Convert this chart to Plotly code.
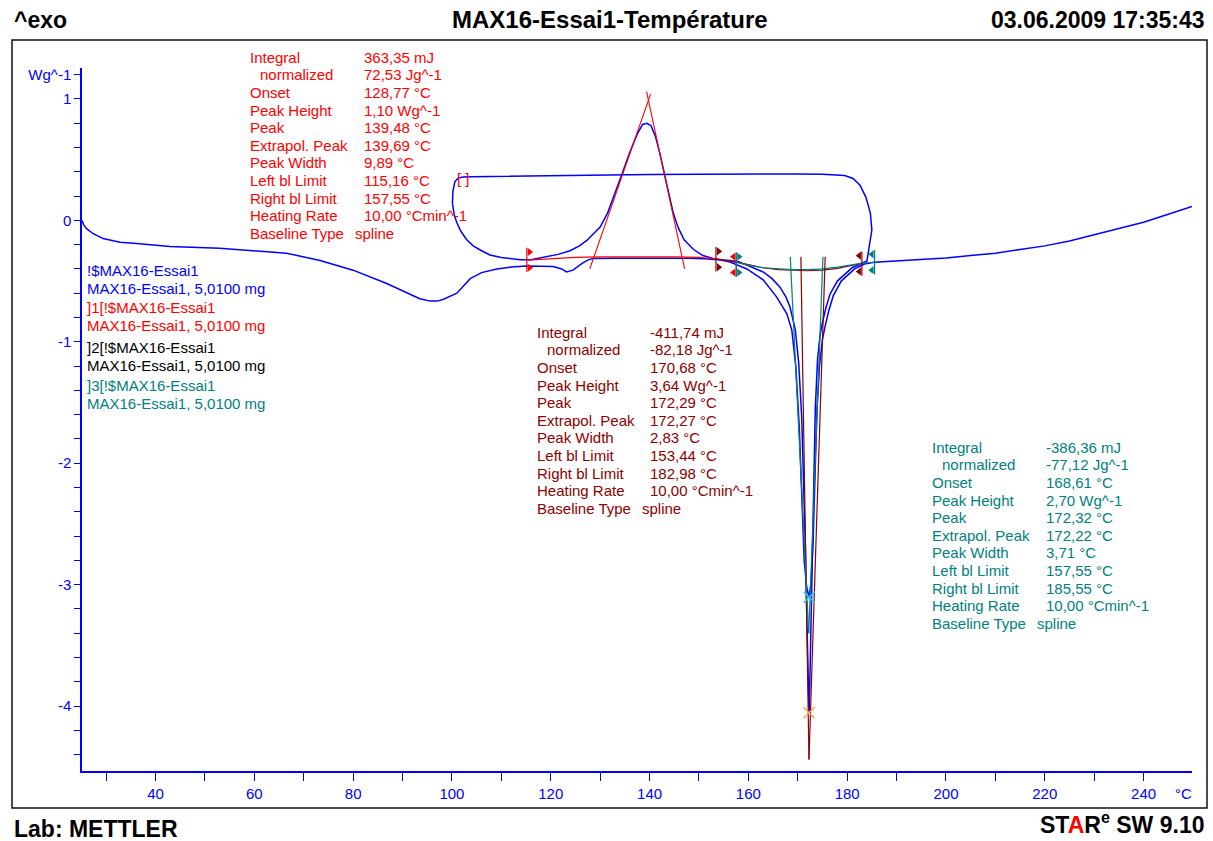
import numpy as np
import plotly.graph_objects as go

BLUE = "#0000ff"
RED = "#ff0000"
BROWN = "#8b0000"
TEAL = "#008080"
FONT = "Liberation Sans, Arial, sans-serif"

# ---------------- DSC signal, MAX16-Essai1, 5,0100 mg (Wg^-1 vs °C) ----------------
# 1st heating 25 -> 185 °C
heat1_T = [25.15, 25.5, 26.1, 27.4, 29.4, 32.8, 36.2, 42.9, 53.0, 59.7, 66.5, 73.3, 80.0,
           86.8, 93.5, 95.6, 97.0, 98.3, 101.0, 103.7, 106.0, 109.1, 112.0, 115.1, 118.0,
           120.5, 122.2, 123.2, 124.5, 125.5, 126.5, 127.6, 128.6, 133.0, 138.0, 143.0,
           148.0, 151.0, 153.4, 156.3, 158.0, 159.7, 161.5, 163.0, 164.8, 166.4, 167.6,
           168.4, 169.5, 170.2, 170.8, 171.2, 171.55, 171.85, 172.1, 172.45, 172.65, 172.9,
           173.2, 173.55, 174.0, 174.5, 175.0, 175.7, 176.5, 178.0, 181.0, 183.3, 184.0]
heat1_W = [0.00, -0.04, -0.07, -0.11, -0.15, -0.18, -0.19, -0.215, -0.23, -0.247, -0.27,
           -0.33, -0.41, -0.52, -0.645, -0.665, -0.665, -0.65, -0.60, -0.48, -0.43, -0.40,
           -0.385, -0.376, -0.375, -0.38, -0.40, -0.425, -0.41, -0.38, -0.35, -0.325, -0.315,
           -0.312, -0.31, -0.31, -0.312, -0.316, -0.32, -0.33, -0.34, -0.37, -0.395, -0.425,
           -0.48, -0.55, -0.63, -0.71, -0.90, -1.18, -1.62, -2.1, -2.7, -3.3, -3.75, -3.8,
           -3.35, -2.75, -2.1, -1.55, -1.15, -0.95, -0.84, -0.72, -0.61, -0.50, -0.39, -0.35,
           -0.335]

# cooling 185 -> 100 °C
cool_T = [184.0, 184.4, 185.0, 184.7, 183.8, 182.6, 181.2, 179.5, 175.0, 170.0, 160.0,
          150.0, 140.0, 130.0, 120.0, 110.0, 104.0, 102.3, 101.3, 100.6, 100.2, 100.1]
cool_W = [-0.335, -0.22, -0.08, 0.06, 0.19, 0.29, 0.345, 0.37, 0.38, 0.382, 0.383, 0.38,
          0.377, 0.374, 0.371, 0.366, 0.36, 0.358, 0.35, 0.32, 0.24, 0.14]

# 2nd heating 100 -> 250 °C
heat2_T = [100.1, 100.5, 101.0, 101.8, 103.0, 104.3, 106.0, 107.7, 110.0, 113.8, 116.0,
           119.2, 121.5, 123.9, 125.8, 127.3, 128.7, 130.0, 131.5, 133.0, 134.5, 136.0,
           137.5, 138.6, 140.3, 141.2, 142.1, 143.0, 143.9, 144.8, 145.8, 147.0, 148.9,
           150.8, 153.0, 156.3, 159.7, 163.0, 165.7, 167.8, 168.8, 169.6, 170.3, 170.8,
           171.3, 171.8, 172.7, 173.1, 173.5, 173.9, 174.4, 175.0, 175.6, 176.3, 177.2,
           178.8, 181.5, 183.5, 185.5, 190.0, 195.0, 200.0, 205.0, 210.0, 215.0, 220.0,
           225.0, 230.0, 235.0, 240.0, 245.0, 249.8]
heat2_W = [0.14, 0.04, -0.02, -0.09, -0.16, -0.21, -0.25, -0.285, -0.305, -0.325, -0.325,
           -0.30, -0.28, -0.25, -0.21, -0.165, -0.11, -0.055, 0.06, 0.22, 0.39, 0.56, 0.71,
           0.79, 0.78, 0.69, 0.55, 0.38, 0.21, 0.06, -0.06, -0.16, -0.24, -0.29, -0.315,
           -0.343, -0.40, -0.49, -0.63, -0.77, -0.905, -1.2, -1.7, -2.3, -2.8, -3.02, -2.98,
           -2.65, -2.1, -1.55, -1.2, -0.98, -0.86, -0.74, -0.62, -0.50, -0.40, -0.36, -0.345,
           -0.335, -0.325, -0.31, -0.29, -0.27, -0.24, -0.21, -0.17, -0.12, -0.07, -0.015,
           0.05, 0.115]

# ---------------- evaluations ----------------
# red: exothermic peak of the 2nd heating
exo_bl_T = [115.16, 120.0, 125.0, 130.0, 135.0, 139.48, 145.0, 150.0, 154.0, 157.55]
exo_bl_W = [-0.328, -0.315, -0.305, -0.30, -0.297, -0.30, -0.30, -0.305, -0.318, -0.345]
exo_peak_T, exo_height = 139.48, 1.10
exo_tan_left_T, exo_tan_left_W = [127.9, 140.2], [-0.40, 1.04]
exo_tan_right_T, exo_tan_right_W = [139.4, 147.1], [1.06, -0.40]
exo_limits = [115.16, 157.55]

# brown: melting peak of the 1st heating
m1_bl_T = [153.44, 157.0, 160.0, 163.0, 166.0, 169.0, 172.0, 175.0, 178.0, 181.0, 182.98]
m1_bl_W = [-0.318, -0.34, -0.365, -0.39, -0.405, -0.413, -0.415, -0.41, -0.395, -0.37, -0.352]
m1_peak_T, m1_height = 172.29, 3.64
m1_onset, m1_extrapol = 170.68, 172.27
m1_tan_right_T = 175.55
m1_tan_bottom = -4.44
m1_limits = [153.44, 182.98]

# teal: melting peak of the 2nd heating
m2_bl_T = [157.55, 160.0, 163.0, 166.0, 169.0, 172.0, 175.0, 178.0, 181.0, 183.5, 185.55]
m2_bl_W = [-0.345, -0.37, -0.39, -0.40, -0.405, -0.405, -0.40, -0.385, -0.365, -0.35, -0.345]
m2_peak_T, m2_height = 172.32, 2.70
m2_onset, m2_extrapol = 168.61, 172.22
m2_tan_right_T = 175.1
m2_tan_bottom = -3.40
m2_limits = [157.55, 185.55]

row_labels = ["Integral", "normalized", "Onset", "Peak Height", "Peak", "Extrapol. Peak",
              "Peak Width", "Left bl Limit", "Right bl Limit", "Heating Rate", "Baseline Type"]
exo_values = ["363,35 mJ", "72,53 Jg^-1", "128,77 °C", "1,10 Wg^-1", "139,48 °C", "139,69 °C",
              "9,89 °C", "115,16 °C", "157,55 °C", "10,00 °Cmin^-1", "spline"]
m1_values = ["-411,74 mJ", "-82,18 Jg^-1", "170,68 °C", "3,64 Wg^-1", "172,29 °C", "172,27 °C",
             "2,83 °C", "153,44 °C", "182,98 °C", "10,00 °Cmin^-1", "spline"]
m2_values = ["-386,36 mJ", "-77,12 Jg^-1", "168,61 °C", "2,70 Wg^-1", "172,32 °C", "172,22 °C",
             "3,71 °C", "157,55 °C", "185,55 °C", "10,00 °Cmin^-1", "spline"]

legend_lines = ["!$MAX16-Essai1", "MAX16-Essai1, 5,0100 mg",
                "]1[!$MAX16-Essai1", "MAX16-Essai1, 5,0100 mg",
                "]2[!$MAX16-Essai1", "MAX16-Essai1, 5,0100 mg",
                "]3[!$MAX16-Essai1", "MAX16-Essai1, 5,0100 mg"]
legend_colors = [BLUE, BLUE, RED, RED, "#000000", "#000000", TEAL, TEAL]

x_ticks = [40, 60, 80, 100, 120, 140, 160, 180, 200, 220, 240]
y_ticks = [-4, -3, -2, -1, 0, 1, 1.2]
y_ticktext = ["-4", "-3", "-2", "-1", "0", "1", "Wg^-1"]


# ---------------- derived peak points ----------------
def insert_point(T, W, t, w):
    T, W = list(T), list(W)
    i = int(np.searchsorted(T, t))
    T.insert(i, t)
    W.insert(i, w)
    return T, W


exo_peak_W = float(np.interp(exo_peak_T, exo_bl_T, exo_bl_W)) + exo_height
m1_peak_W = float(np.interp(m1_peak_T, m1_bl_T, m1_bl_W)) - m1_height
m2_peak_W = float(np.interp(m2_peak_T, m2_bl_T, m2_bl_W)) - m2_height

h1T, h1W = insert_point(heat1_T, heat1_W, m1_peak_T, m1_peak_W)
h2T, h2W = insert_point(heat2_T, heat2_W, exo_peak_T, exo_peak_W)
h2T, h2W = insert_point(h2T, h2W, m2_peak_T, m2_peak_W)

fig = go.Figure()


def line(x, y, color, width=1.5):
    fig.add_trace(go.Scatter(x=x, y=y, mode="lines", line=dict(color=color, width=width),
                             showlegend=False, hoverinfo="skip"))


# measured curves
line(h1T, h1W, BLUE)
line(cool_T, cool_W, BLUE)
line(h2T, h2W, BLUE)

# evaluation baselines
line(exo_bl_T, exo_bl_W, RED, 1.2)
line(m1_bl_T, m1_bl_W, BROWN, 1.2)
line(m2_bl_T, m2_bl_W, TEAL, 1.2)

# tangents
line(exo_tan_left_T, exo_tan_left_W, RED, 1.1)
line(exo_tan_right_T, exo_tan_right_W, RED, 1.1)


def tangent_pair(onset, onset_bl, extrapol, bottom, right_T, color):
    slope = (bottom - onset_bl) / (extrapol - onset)
    top = -0.30
    t_left = onset + (top - onset_bl) / slope
    line([t_left, extrapol], [top, bottom], color, 1.2)
    line([right_T, extrapol], [top, bottom], color, 1.2)


tangent_pair(m1_onset, float(np.interp(m1_onset, m1_bl_T, m1_bl_W)), m1_extrapol,
             m1_tan_bottom, m1_tan_right_T, BROWN)
tangent_pair(m2_onset, float(np.interp(m2_onset, m2_bl_T, m2_bl_W)), m2_extrapol,
             m2_tan_bottom, m2_tan_right_T, TEAL)


# baseline limit flags
def flags(limits, curveT, curveW, color):
    for k, t in enumerate(limits):
        y0 = float(np.interp(t, curveT, curveW))
        sym = "triangle-right" if k == 0 else "triangle-left"
        dx = 0.55 if k == 0 else -0.55
        line([t, t], [y0 + 0.1, y0 - 0.1], color, 1.2)
        fig.add_trace(go.Scatter(x=[t + dx, t + dx], y=[y0 + 0.065, y0 - 0.065], mode="markers",
                                 marker=dict(symbol=sym, size=7, color=color, line=dict(width=0)),
                                 showlegend=False, hoverinfo="skip"))


flags(exo_limits, h2T, h2W, RED)
flags(m1_limits, h1T, h1W, BROWN)
flags(m2_limits, h2T, h2W, TEAL)

# peak markers
for pt, pw, col in [(m1_peak_T, m1_peak_W, BROWN), (m2_peak_T, m2_peak_W, TEAL)]:
    fig.add_trace(go.Scatter(x=[pt], y=[pw], mode="markers",
                             marker=dict(symbol="x-thin-open", size=11,
                                         line=dict(color=col, width=1.5)),
                             showlegend=False, hoverinfo="skip"))

# ---------------- layout ----------------
L, R, TOP, BOT = 82, 1192, 68, 771


def fx(p):
    return (p - L) / (R - L)


def fy(p):
    return (BOT - p) / (BOT - TOP)


ann = []


def text(s, x, y, color, size=15, xanchor="left", bold=False, yanchor="middle"):
    ann.append(dict(text=f"<b>{s}</b>" if bold else s, x=fx(x), y=fy(y), xref="paper",
                    yref="paper", xanchor=xanchor, yanchor=yanchor, showarrow=False,
                    font=dict(family=FONT, size=size, color=color)))


def block(values, x_lab, x_val, x_spline, y0, color):
    for i, (lab, val) in enumerate(zip(row_labels, values)):
        y = y0 + i * 17.6
        text(lab, x_lab + (10 if lab == "normalized" else 0), y, color)
        text(val, x_spline if i == len(row_labels) - 1 else x_val, y, color)


block(exo_values, 248, 362, 353, 57.3, RED)
block(m1_values, 535, 648, 640, 332.3, BROWN)
block(m2_values, 930, 1044, 1035, 447.3, TEAL)

legend_y = [270, 288.5, 307.3, 325.5, 347, 365.7, 385, 403.3]
for s, c, y in zip(legend_lines, legend_colors, legend_y):
    text(s, 85, y, c)

text("[ ]", 455, 178, RED, size=15)
text("°C", 1183, 793, BLUE, size=15, xanchor="center")

# header / footer
text("^exo", 12, 20, "#000000", size=23, bold=True)
text("MAX16-Essai1-Température", 610, 20, "#000000", size=24, xanchor="center", bold=True)
text("03.06.2009 17:35:43", 1207, 20, "#000000", size=23, xanchor="right", bold=True)
text("Lab: METTLER", 12, 829, "#000000", size=23, bold=True)
text("ST<span style='color:#ff0000'>A</span>R<sup>e</sup> SW 9.10", 1207, 840, "#000000",
     size=23, xanchor="right", bold=True, yanchor="bottom")

fig.update_layout(
    width=1213, height=841,
    margin=dict(l=L, r=1213 - R, t=TOP, b=841 - BOT, pad=0),
    paper_bgcolor="white", plot_bgcolor="white",
    annotations=ann,
    shapes=[dict(type="rect", xref="paper", yref="paper", x0=fx(12), x1=fx(1207),
                 y0=fy(808), y1=fy(40), line=dict(color="#111111", width=1.5))],
    xaxis=dict(range=[25.12, 249.8], tickmode="array", tickvals=x_ticks,
               ticks="outside", ticklen=8, tickcolor=BLUE, tickwidth=1,
               minor=dict(dtick=10, tick0=0, ticks="outside", ticklen=8, tickcolor=BLUE),
               showline=True, linecolor=BLUE, linewidth=1.5, showgrid=False, zeroline=False,
               tickfont=dict(family=FONT, size=15, color=BLUE)),
    yaxis=dict(range=[-4.535, 1.255], tickmode="array", tickvals=y_ticks, ticktext=y_ticktext,
               ticks="outside", ticklen=6, tickcolor=BLUE, tickwidth=1,
               minor=dict(dtick=0.2, tick0=0, ticks="outside", ticklen=6, tickcolor=BLUE),
               showline=True, linecolor=BLUE, linewidth=1.5, showgrid=False, zeroline=False,
               tickfont=dict(family=FONT, size=15, color=BLUE)),
)

fig.write_html("out.html")
